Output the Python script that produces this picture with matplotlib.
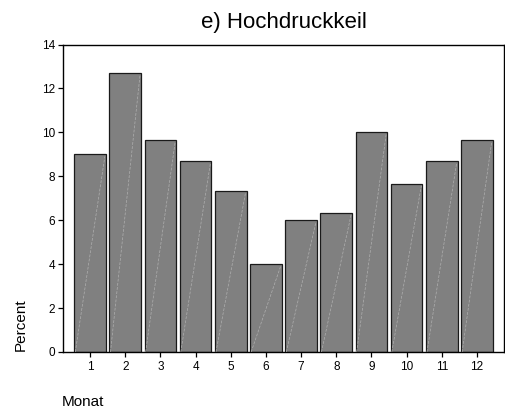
import matplotlib
matplotlib.use("Agg")
import matplotlib.pyplot as plt
import numpy as np

months = [1, 2, 3, 4, 5, 6, 7, 8, 9, 10, 11, 12]
percent = [9.0, 12.71, 9.67, 8.68, 7.35, 4.01, 6.0, 6.33, 10.02, 7.67, 8.68, 9.67]
yticks = [0, 2, 4, 6, 8, 10, 12, 14]
title = "e) Hochdruckkeil"
ylabel = "Percent"
xlabel = "Monat"

plt.rcParams['font.family'] = ['Liberation Sans', 'DejaVu Sans']

W, H = 505, 417
fig = plt.figure(figsize=(W / 100, H / 100), dpi=100)
ax = fig.add_axes([63 / W, 1 - 352 / H, (504 - 63) / W, (352 - 44.5) / H])

width = 0.9
bars = ax.bar(months, percent, width=width, color="#808080",
              edgecolor="#1a1a1a", linewidth=0.9, zorder=2)
for m, v in zip(months, percent):
    ax.plot([m - width / 2 + 0.03, m + width / 2 - 0.03], [0, v - 0.1],
            color="#b0b0b0", linewidth=0.5, linestyle=(0, (4, 2)), zorder=3)

ax.set_xlim(0.23, 12.77)
ax.set_ylim(0, 14)
ax.set_yticks(yticks)
ax.set_xticks(months)
ax.set_xticklabels([str(m) for m in months])
ax.tick_params(axis="both", labelsize=8.5, length=3.5, width=0.9, color="black")
ax.tick_params(axis="x", pad=3)
ax.tick_params(axis="y", pad=2)
for s in ax.spines.values():
    s.set_linewidth(1.0)
    s.set_color("black")

ax.set_title(title, fontsize=16, pad=12)
fig.text(21 / W, 1 - 325 / H, ylabel, rotation=90, ha="center", va="center", fontsize=11)
fig.text(62 / W, 1 - 402 / H, xlabel, ha="left", va="center", fontsize=11)

fig.savefig("out.png", dpi=100)
